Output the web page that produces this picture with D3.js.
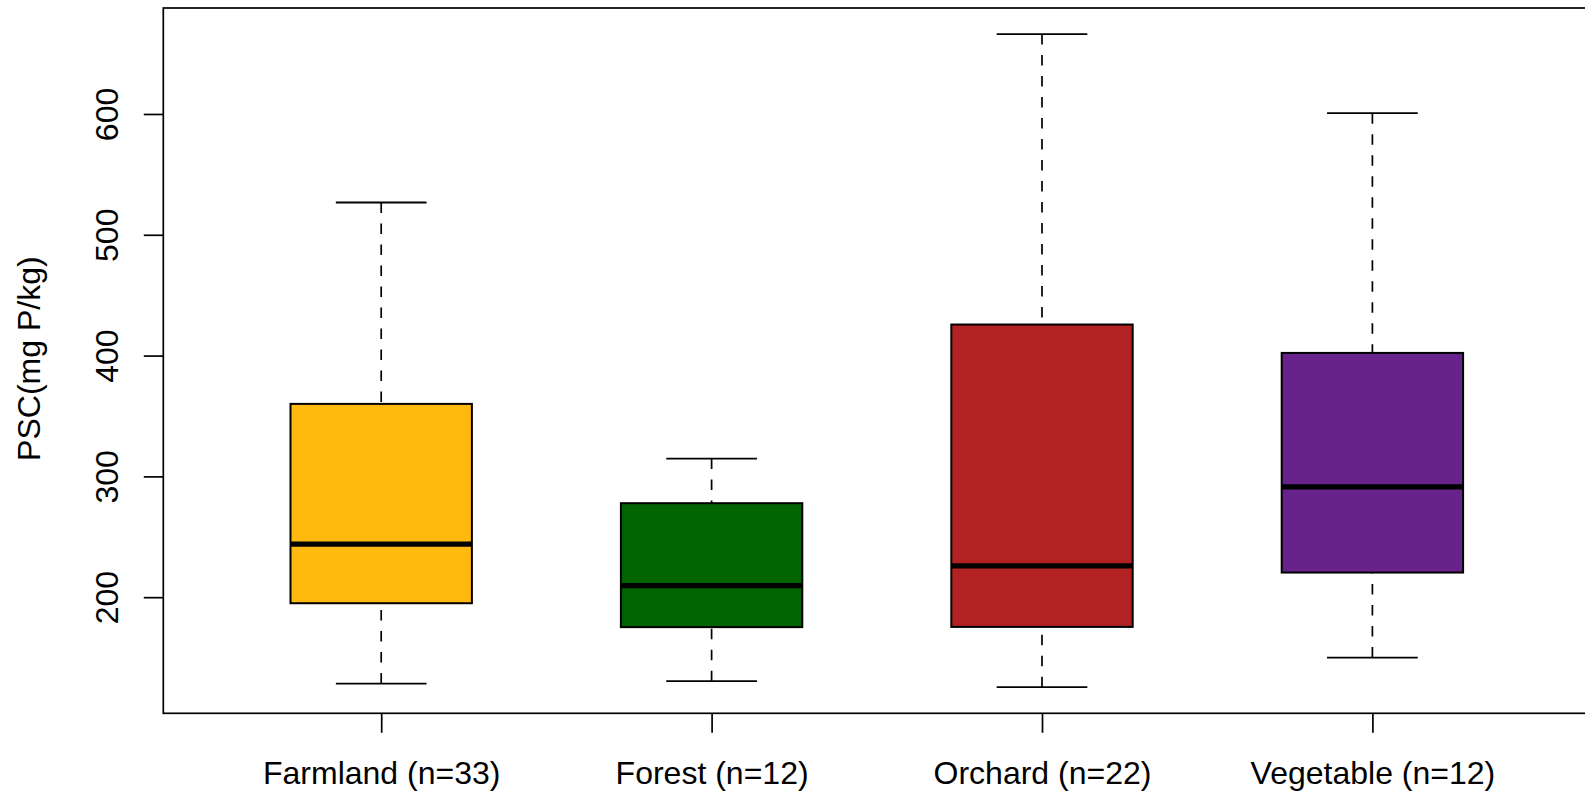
<!DOCTYPE html>
<html>
<head>
<meta charset="utf-8">
<script src="https://cdn.jsdelivr.net/npm/d3@7"></script>
<style>
  html, body { margin: 0; padding: 0; background: #fff; overflow: hidden; }
  svg { display: block; }
  text { font-family: "Liberation Sans", Arial, sans-serif; fill: #000; }
</style>
</head>
<body>
<svg id="chart" width="1585" height="791"></svg>
<script>
// Land-use groups and their five-number summaries of PSC (mg P/kg)
const categories = ["Farmland (n=33)", "Forest (n=12)", "Orchard (n=22)", "Vegetable (n=12)"];
const lowerWhisker = [128.5, 130.5, 125.5, 150.0];
const q1 = [195.0, 175.2, 175.4, 220.4];
const medians = [243.9, 209.6, 225.9, 291.3];
const q3 = [360.0, 277.8, 425.7, 402.2];
const upperWhisker = [526.7, 314.7, 666.1, 600.7];
const boxColors = ["#FFB90F", "#006400", "#B22222", "#68228B"];
const yTicks = [200, 300, 400, 500, 600];
const yTitle = "PSC(mg P/kg)";

const W = 1585, H = 791;
const plot = { left: 163.3, top: 8, bottom: 713.3, right: 1590 };

const svg = d3.select("#chart");

// y range padded 4% beyond the data, like a base-graphics boxplot
const lo = d3.min(lowerWhisker), hi = d3.max(upperWhisker);
const pad = (hi - lo) * 0.04;
const y = d3.scaleLinear().domain([lo - pad, hi + pad]).range([plot.bottom, plot.top]);

// group positions 1..4
const x = d3.scaleLinear().domain([1, 4]).range([381.2, 1372.4]);
const step = x(2) - x(1);
const boxHalf = step * 0.2745;
const capHalf = boxHalf / 2;

const data = categories.map((c, i) => ({
  label: c, i: i + 1,
  lo: lowerWhisker[i], q1: q1[i], med: medians[i], q3: q3[i], hi: upperWhisker[i],
  color: boxColors[i]
}));

const g = svg.append("g");

const boxes = g.selectAll("g.box").data(data).enter().append("g").attr("class", "box");

// whiskers: drawn from the cap toward the box so the dash pattern starts at the cap
boxes.append("line")
  .attr("x1", d => x(d.i)).attr("x2", d => x(d.i))
  .attr("y1", d => y(d.hi)).attr("y2", d => y(d.q3))
  .attr("stroke", "#000").attr("stroke-width", 1.7).attr("stroke-dasharray", "10.5,10.5");
boxes.append("line")
  .attr("x1", d => x(d.i)).attr("x2", d => x(d.i))
  .attr("y1", d => y(d.lo)).attr("y2", d => y(d.q1))
  .attr("stroke", "#000").attr("stroke-width", 1.7).attr("stroke-dasharray", "10.5,10.5");

// caps
["hi", "lo"].forEach(k => {
  boxes.append("line")
    .attr("x1", d => x(d.i) - capHalf).attr("x2", d => x(d.i) + capHalf)
    .attr("y1", d => y(d[k])).attr("y2", d => y(d[k]))
    .attr("stroke", "#000").attr("stroke-width", 1.8);
});

// boxes
boxes.append("rect")
  .attr("x", d => x(d.i) - boxHalf)
  .attr("width", boxHalf * 2)
  .attr("y", d => y(d.q3))
  .attr("height", d => y(d.q1) - y(d.q3))
  .attr("fill", d => d.color)
  .attr("stroke", "#000").attr("stroke-width", 2);

// medians
boxes.append("line")
  .attr("x1", d => x(d.i) - boxHalf).attr("x2", d => x(d.i) + boxHalf)
  .attr("y1", d => y(d.med)).attr("y2", d => y(d.med))
  .attr("stroke", "#000").attr("stroke-width", 5.4);

// plot frame
svg.append("rect")
  .attr("x", plot.left).attr("y", plot.top)
  .attr("width", plot.right - plot.left).attr("height", plot.bottom - plot.top)
  .attr("fill", "none").attr("stroke", "#000").attr("stroke-width", 1.7);

// y axis
const yAxis = d3.axisLeft(y).tickValues(yTicks).tickSize(19.5).tickPadding(0).tickFormat(d3.format("d"));
const ya = svg.append("g").attr("transform", `translate(${plot.left},0)`).call(yAxis);
ya.select(".domain").remove();
ya.selectAll(".tick line").attr("stroke", "#000").attr("stroke-width", 1.7);
ya.selectAll(".tick text")
  .attr("x", 0).attr("dy", null).attr("dx", null)
  .attr("text-anchor", "middle")
  .attr("transform", `translate(${117.5 - plot.left},0) rotate(-90)`)
  .attr("y", 0)
  .style("font-size", "32px")
  .style("font-family", "'Liberation Sans', Arial, sans-serif");

// x axis
const xAxis = d3.axisBottom(x).tickValues([1, 2, 3, 4]).tickSize(19.5).tickPadding(0)
  .tickFormat(d => categories[d - 1]);
const xa = svg.append("g").attr("transform", `translate(0,${plot.bottom})`).call(xAxis);
xa.select(".domain").remove();
xa.selectAll(".tick line").attr("stroke", "#000").attr("stroke-width", 1.7);
xa.selectAll(".tick text")
  .attr("y", 784 - plot.bottom).attr("dy", null)
  .style("font-size", "32px")
  .style("font-family", "'Liberation Sans', Arial, sans-serif");

// y axis title
svg.append("text")
  .attr("transform", `translate(39.5,${(plot.top + plot.bottom) / 2 - 2}) rotate(-90)`)
  .attr("text-anchor", "middle")
  .style("font-size", "32px")
  .text(yTitle);
</script>
</body>
</html>
